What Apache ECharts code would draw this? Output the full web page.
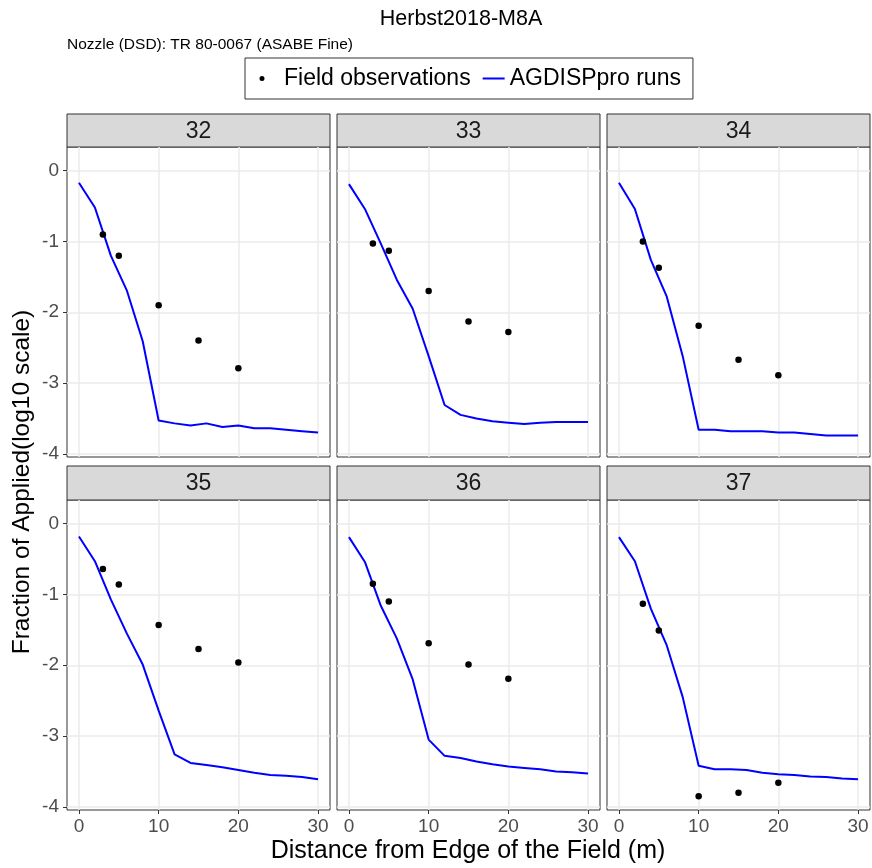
<!DOCTYPE html>
<html>
<head>
<meta charset="utf-8">
<title>Herbst2018-M8A</title>
<script src="https://cdn.jsdelivr.net/npm/echarts@6/dist/echarts.min.js"></script>
<style>
  html, body { margin: 0; padding: 0; background: #fff; }
  #main { width: 872px; height: 868px; }
</style>
</head>
<body>
<div id="main"></div>
<script>
// facet labels (one panel each)
const panels = ['32', '33', '34', '35', '36', '37'];

// AGDISPpro model runs, distance in m
const runDist = [0, 2, 4, 6, 8, 10, 12, 14, 16, 18, 20, 22, 24, 26, 28, 30];
const run32 = [-0.17, -0.52, -1.20, -1.69, -2.41, -3.53, -3.57, -3.60, -3.57, -3.62, -3.60, -3.64, -3.64, -3.66, -3.68, -3.70];
const run33 = [-0.19, -0.54, -1.03, -1.54, -1.95, -2.62, -3.31, -3.45, -3.50, -3.54, -3.56, -3.58, -3.56, -3.55, -3.55, -3.55];
const run34 = [-0.17, -0.54, -1.26, -1.78, -2.62, -3.66, -3.66, -3.68, -3.68, -3.68, -3.70, -3.70, -3.72, -3.74, -3.74, -3.74];
const run35 = [-0.18, -0.53, -1.07, -1.55, -1.99, -2.64, -3.26, -3.38, -3.41, -3.44, -3.48, -3.52, -3.55, -3.56, -3.58, -3.61];
const run36 = [-0.19, -0.54, -1.16, -1.62, -2.20, -3.05, -3.28, -3.31, -3.36, -3.40, -3.43, -3.45, -3.47, -3.50, -3.51, -3.53];
const run37 = [-0.19, -0.53, -1.20, -1.72, -2.45, -3.42, -3.47, -3.47, -3.48, -3.52, -3.54, -3.55, -3.57, -3.58, -3.60, -3.61];

// field observations
const obsDist = [3, 5, 10, 15, 20];
const obs32 = [-0.90, -1.20, -1.90, -2.40, -2.79];
const obs33 = [-1.03, -1.13, -1.70, -2.13, -2.28];
const obs34 = [-1.00, -1.37, -2.19, -2.67, -2.89];
const obs35 = [-0.64, -0.86, -1.43, -1.77, -1.96];
const obs36 = [-0.85, -1.10, -1.69, -1.99, -2.19];
const obs37 = [-1.13, -1.51, -3.85, -3.80, -3.66];

// tick labels
const xTicks = [0, 10, 20, 30];
const yTicks = [-4, -3, -2, -1, 0];

const runs = [run32, run33, run34, run35, run36, run37];
const obs = [obs32, obs33, obs34, obs35, obs36, obs37];

const FONT = 'Liberation Sans, Arial, sans-serif';
const colLeft = [67, 337, 607];
const rowTop = [147, 500];
const stripTop = [114, 466];
const panelW = 263, panelH = 310;

const chart = echarts.init(document.getElementById('main'));

const grids = [], xAxes = [], yAxes = [], series = [], graphics = [];

// ticks use customValues everywhere so the grid lines sit on the round values;
// on inner panels the tick marks themselves are made invisible
const tickStyle = (shown, values) => ({
  show: true, length: shown ? 4 : 0, customValues: values,
  lineStyle: { color: shown ? '#333' : 'rgba(0,0,0,0)' }
});

panels.forEach((p, i) => {
  const col = i % 3, row = Math.floor(i / 3);
  const bottomRow = row === 1, leftCol = col === 0;
  grids.push({
    left: colLeft[col], top: rowTop[row], width: panelW, height: panelH,
    show: true, borderColor: '#333', borderWidth: 1, backgroundColor: '#fff'
  });
  xAxes.push({
    type: 'value', gridIndex: i, min: -1.5, max: 31.5,
    axisLine: { show: false, onZero: false },
    axisTick: tickStyle(bottomRow, xTicks),
    axisLabel: bottomRow
      ? { show: true, customValues: xTicks, fontSize: 19, color: '#4d4d4d', fontFamily: FONT, margin: 7 }
      : { show: false },
    splitLine: { show: true, lineStyle: { color: '#ebebeb', width: 1.5 } }
  });
  yAxes.push({
    type: 'value', gridIndex: i, min: -4.045, max: 0.335,
    axisLine: { show: false, onZero: false },
    axisTick: tickStyle(leftCol, yTicks),
    axisLabel: leftCol
      ? { show: true, customValues: yTicks, fontSize: 19, color: '#4d4d4d', fontFamily: FONT, margin: 8 }
      : { show: false },
    splitLine: { show: true, lineStyle: { color: '#ebebeb', width: 1.5 } }
  });
  series.push({
    name: 'AGDISPpro runs', type: 'line', xAxisIndex: i, yAxisIndex: i,
    symbol: 'none', data: runDist.map((d, k) => [d, runs[i][k]]),
    lineStyle: { color: '#0000ff', width: 2 }, itemStyle: { color: '#0000ff' }, z: 3
  });
  series.push({
    name: 'Field observations', type: 'scatter', xAxisIndex: i, yAxisIndex: i,
    symbol: 'circle', symbolSize: 6.5, data: obsDist.map((d, k) => [d, obs[i][k]]),
    itemStyle: { color: '#000', opacity: 1 }, z: 4
  });
  // facet strip
  graphics.push({
    type: 'rect',
    shape: { x: colLeft[col], y: stripTop[row], width: panelW, height: rowTop[row] - stripTop[row] },
    style: { fill: '#d9d9d9', stroke: '#333', lineWidth: 1 }
  });
  graphics.push({
    type: 'text',
    x: colLeft[col] + panelW / 2, y: (stripTop[row] + rowTop[row]) / 2 + 1,
    style: { text: p, fontSize: 23, fill: '#1a1a1a', fontFamily: FONT, align: 'center', verticalAlign: 'middle' }
  });
});

graphics.push({
  type: 'text', x: 22, y: 482, rotation: Math.PI / 2,
  style: { text: 'Fraction of Applied(log10 scale)', fontSize: 24.5, fill: '#000', fontFamily: FONT, align: 'center', verticalAlign: 'middle' }
});
graphics.push({
  type: 'text', x: 468, y: 851,
  style: { text: 'Distance from Edge of the Field (m)', fontSize: 25, fill: '#000', fontFamily: FONT, align: 'center', verticalAlign: 'middle' }
});

const option = {
  animation: false,
  backgroundColor: '#fff',
  title: [
    { text: 'Herbst2018-M8A', left: 456, top: 3, textAlign: 'center',
      textStyle: { fontSize: 21.5, fontWeight: 'normal', color: '#000', fontFamily: FONT } },
    { text: 'Nozzle (DSD): TR 80-0067 (ASABE Fine)', left: 62, top: 32,
      textStyle: { fontSize: 15.5, fontWeight: 'normal', color: '#000', fontFamily: FONT } }
  ],
  legend: {
    left: 245, top: 58,
    data: [
      // small dot sitting near the left of a 22px wide icon box
      { name: 'Field observations', icon: 'path://M0,2.5L22,2.5M2.5,2.5a2.5,2.5 0 1,0 5,0a2.5,2.5 0 1,0 -5,0Z' },
      { name: 'AGDISPpro runs', icon: 'path://M0,0L22,0L22,2L0,2Z' }
    ],
    itemWidth: 22, itemHeight: 5, itemGap: 12,
    borderColor: '#333', borderWidth: 1, padding: [9, 12, 9, 12],
    textStyle: { fontSize: 23, color: '#000', fontFamily: FONT }
  },
  grid: grids,
  xAxis: xAxes,
  yAxis: yAxes,
  series: series,
  graphic: graphics
};

chart.setOption(option);
</script>
</body>
</html>
